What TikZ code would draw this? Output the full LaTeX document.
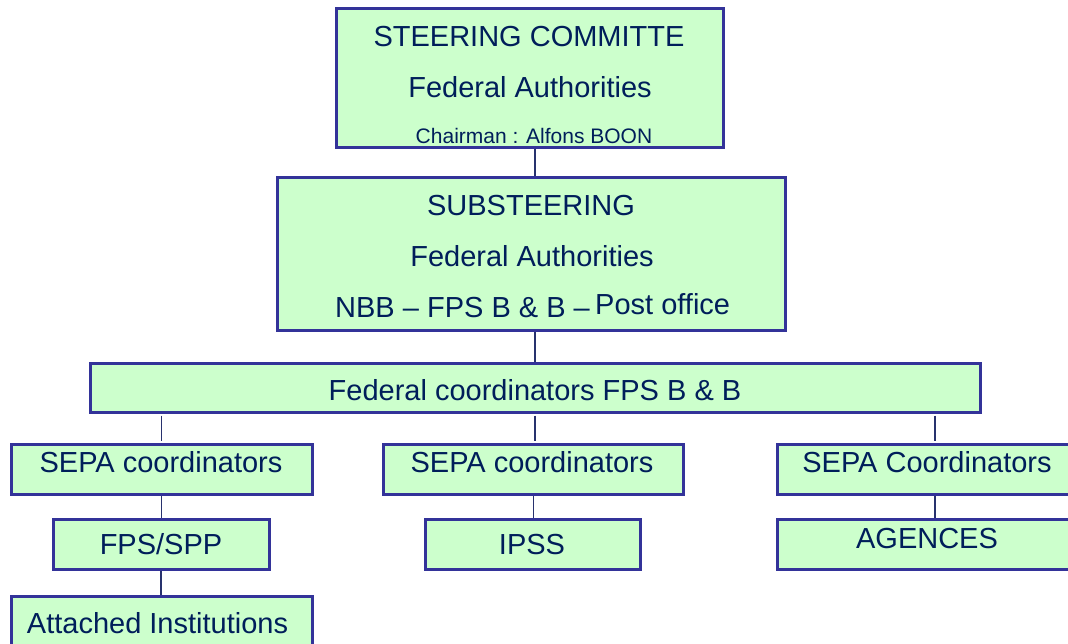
\documentclass[tikz,border=0pt]{standalone}
\usepackage{fontspec}
\setmainfont{Liberation Sans}
\definecolor{boxfill}{RGB}{204,255,204}
\definecolor{boxline}{RGB}{51,51,153}
\definecolor{txt}{RGB}{0,30,90}
\definecolor{conn}{RGB}{40,50,110}
\tikzset{
  box/.style={draw=boxline, fill=boxfill, line width=3pt, rectangle, inner sep=0pt},
  lbl/.style={text=txt, inner sep=0pt, anchor=base, font=\fontsize{29}{34}\selectfont},
  small/.style={text=txt, inner sep=0pt, anchor=base, font=\fontsize{21}{25}\selectfont},
  link/.style={draw=conn, line width=1.5pt}
}
\begin{document}
\begin{tikzpicture}[x=1pt,y=-1pt]
\useasboundingbox (0,0) rectangle (1068,643);
\clip (0,0) rectangle (1068,643);
\fill[white] (0,0) rectangle (1068,643);
% boxes
\node[box, minimum width=387pt, minimum height=139pt] (steer) at (529.5,77.5) {};
\node[box, minimum width=508pt, minimum height=153pt] (sub) at (531,253.5) {};
\node[box, minimum width=890pt, minimum height=49pt] (fed) at (535,387.5) {};
\node[box, minimum width=301pt, minimum height=50pt] (sepa1) at (161.5,469) {};
\node[box, minimum width=300pt, minimum height=50pt] (sepa2) at (533.5,469) {};
\node[box, minimum width=316pt, minimum height=50pt] (sepa3) at (935,469) {};
\node[box, minimum width=216pt, minimum height=50pt] (fps) at (161,544) {};
\node[box, minimum width=215pt, minimum height=50pt] (ipss) at (532.5,544) {};
\node[box, minimum width=316pt, minimum height=50pt] (agences) at (935,544) {};
\node[box, minimum width=301pt, minimum height=50pt] (attached) at (161.5,621) {};
% connectors
\draw[link] (steer.south -| fed.north) -- (sub.north -| fed.north);
\draw[link] (sub.south -| fed.north) -- (fed.north);
\draw[link, shorten <=2pt, shorten >=2pt] (fed.south -| sepa1.north) -- (sepa1.north);
\draw[link, shorten <=2pt, shorten >=2pt] (fed.south) -- (fed.south |- sepa2.north);
\draw[link, shorten <=2pt, shorten >=2pt] (fed.south -| sepa3.north) -- (sepa3.north);
\draw[link] (sepa1.south) -- (sepa1.south |- fps.north);
\draw[link] (fps.south) -- (fps.south |- attached.north);
\draw[link] (sepa2.south) -- (sepa2.south |- ipss.north);
\draw[link] (sepa3.south) -- (agences.north);
% texts
\node[lbl] (t1) at (529,46) {STEERING COMMITTE};
\node[lbl] (t2) at (530,97) {Federal Authorities};
\node[small] (t3) at (534,143) {Chairman : Alfons BOON};
\node[lbl] (t4) at (531,215) {SUBSTEERING};
\node[lbl] (t5) at (532,266) {Federal Authorities};
\node[lbl, anchor=base west] (t6) at (335,317) {NBB – FPS B \& B –};
\node[lbl, anchor=base west] (t7) at (595,314) {Post office};
\node[lbl] (t8) at (535,400) {Federal coordinators FPS B \& B};
\node[lbl] (t9) at (161,472) {SEPA coordinators};
\node[lbl] (t10) at (532,472) {SEPA coordinators};
\node[lbl] (t11) at (927,472) {SEPA Coordinators};
\node[lbl] (t12) at (161,554) {FPS/SPP};
\node[lbl] (t13) at (532,554) {IPSS};
\node[lbl] (t14) at (927,548) {AGENCES};
\node[lbl] (t15) at (157.5,633) {Attached Institutions};
\end{tikzpicture}
\end{document}
